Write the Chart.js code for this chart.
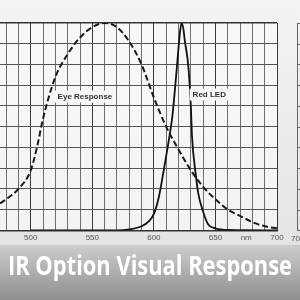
<!DOCTYPE html>
<html>
<head>
<meta charset="utf-8">
<script src="https://cdn.jsdelivr.net/npm/chart.js@4"></script>
<style>
  html, body { margin: 0; padding: 0; background: #eee; }
  canvas { display: block; }
</style>
</head>
<body>
<canvas id="chart" width="300" height="300"></canvas>
<script>
// wavelength (nm) and relative response
const eyeNm = [475, 480, 490, 500, 505, 510, 520, 530, 540, 550, 560, 570, 580, 590, 600, 610, 620, 630, 640, 650, 660, 670, 680, 690, 700];
const eyeVal = [0.13, 0.15, 0.20, 0.29, 0.40, 0.54, 0.74, 0.85, 0.93, 0.98, 1.0, 0.98, 0.91, 0.80, 0.64, 0.50, 0.39, 0.29, 0.21, 0.15, 0.10, 0.07, 0.04, 0.02, 0.01];

const ledNm = [500, 570, 580, 590, 596, 600, 604, 608, 612, 615, 618, 620, 621.5, 622.5, 624, 625, 628, 630, 631, 634, 636, 640, 644, 650, 660, 700];
const ledVal = [0, 0, 0.005, 0.02, 0.045, 0.08, 0.16, 0.29, 0.43, 0.55, 0.74, 0.88, 0.97, 1.0, 0.97, 0.92, 0.79, 0.60, 0.45, 0.27, 0.18, 0.09, 0.03, 0.01, 0.002, 0];

// tick labels along the wavelength axis
const tickNm = [480, 490, 500, 510, 520, 530, 540, 550, 560, 570, 580, 590, 600, 610, 620, 630, 640, 650, 660, 670, 675, 680, 690, 700];
const tickText = { 500: '500', 550: '550', 600: '600', 650: '650', 675: 'nm', 700: '700' };

const curveLabels = [
  { text: 'Eye Response', x: 544, y: 0.645 },
  { text: 'Red LED', x: 645, y: 0.655 }
];
const bannerTitle = 'IR Option Visual Response';

const backdrop = {
  id: 'backdrop',
  beforeDraw(chart) {
    const ctx = chart.ctx;
    const a = chart.chartArea;
    ctx.save();
    let g = ctx.createLinearGradient(0, 0, 0, 245);
    g.addColorStop(0, '#f3f3f3');
    g.addColorStop(1, '#e4e4e4');
    ctx.fillStyle = g;
    ctx.fillRect(0, 0, 300, 300);
    g = ctx.createLinearGradient(0, a.top, 0, a.bottom);
    g.addColorStop(0, '#f8f8f8');
    g.addColorStop(1, '#f3f3f3');
    ctx.fillStyle = g;
    ctx.fillRect(a.left, a.top, a.right - a.left, a.bottom - a.top);
    ctx.restore();
  },
  afterDatasetsDraw(chart) {
    const ctx = chart.ctx;
    const xs = chart.scales.x, ys = chart.scales.y;
    ctx.save();
    ctx.font = 'bold 8px "Liberation Sans", Arial, sans-serif';
    ctx.textAlign = 'center';
    ctx.textBaseline = 'middle';
    curveLabels.forEach(l => {
      const px = xs.getPixelForValue(l.x), py = ys.getPixelForValue(l.y);
      const w = ctx.measureText(l.text).width;
      ctx.fillStyle = '#f7f7f7';
      ctx.fillRect(px - w / 2 - 3, py - 6, w + 6, 12);
      ctx.fillStyle = '#333';
      ctx.fillText(l.text, px, py);
    });
    ctx.restore();
  },
  afterDraw(chart) {
    const ctx = chart.ctx;
    const ys = chart.scales.y;
    ctx.save();
    // edge of the neighbouring chart
    ctx.strokeStyle = '#666';
    ctx.lineWidth = 1;
    ctx.beginPath();
    ctx.moveTo(297.5, ys.getPixelForValue(1));
    ctx.lineTo(297.5, ys.getPixelForValue(0));
    ys.ticks.forEach(t => {
      const y = Math.round(ys.getPixelForValue(t.value)) + 0.5;
      ctx.moveTo(297, y);
      ctx.lineTo(300, y);
    });
    ctx.stroke();
    ctx.fillStyle = '#555';
    ctx.font = '8px "Liberation Sans", Arial, sans-serif';
    ctx.textBaseline = 'middle';
    ctx.fillText('700', 291, ys.getPixelForValue(0) + 8);

    // title banner
    const g = ctx.createLinearGradient(0, 245, 0, 300);
    g.addColorStop(0, '#cdcdcd');
    g.addColorStop(1, '#8f8f8f');
    ctx.fillStyle = g;
    ctx.fillRect(0, 245, 300, 55);
    ctx.font = 'bold 26px "Open Sans", sans-serif';
    const w = ctx.measureText(bannerTitle).width;
    ctx.translate(8, 268);
    ctx.scale(284 / w, 1);
    ctx.fillStyle = '#fff';
    ctx.textBaseline = 'middle';
    ctx.textAlign = 'left';
    ctx.fillText(bannerTitle, 0, 0);
    ctx.restore();
  }
};

new Chart(document.getElementById('chart').getContext('2d'), {
  type: 'scatter',
  data: {
    datasets: [
      {
        label: 'Eye Response',
        data: eyeNm.map((x, i) => ({ x, y: eyeVal[i] })),
        showLine: true,
        borderColor: '#1a1a1a',
        borderWidth: 2,
        borderDash: [6, 3],
        pointRadius: 0,
        cubicInterpolationMode: 'monotone'
      },
      {
        label: 'Red LED',
        data: ledNm.map((x, i) => ({ x, y: ledVal[i] })),
        showLine: true,
        borderColor: '#111',
        borderWidth: 1.8,
        pointRadius: 0,
        cubicInterpolationMode: 'monotone'
      }
    ]
  },
  options: {
    responsive: false,
    animation: false,
    layout: { padding: { left: 0, top: 23, right: 23, bottom: 54 } },
    plugins: { legend: { display: false }, tooltip: { enabled: false } },
    scales: {
      x: {
        type: 'linear',
        min: 475,
        max: 700,
        afterBuildTicks: scale => { scale.ticks = tickNm.map(v => ({ value: v })); },
        grid: {
          drawTicks: false,
          lineWidth: 1,
          color: c => c.tick && c.tick.value === 675 ? 'rgba(0,0,0,0)' : (c.tick && c.tick.value % 50 === 0 ? '#3a3a3a' : '#707070')
        },
        border: { color: '#333', width: 1.5 },
        ticks: {
          autoSkip: false,
          maxRotation: 0,
          padding: 3,
          color: '#555',
          font: { size: 8, family: '"Liberation Sans", Arial, sans-serif' },
          callback: v => tickText[v] || ''
        }
      },
      y: {
        min: 0,
        max: 1,
        ticks: { display: false, stepSize: 0.1 },
        grid: { drawTicks: false, color: c => c.tick && c.tick.value === 1 ? '#333' : '#555', lineWidth: c => c.tick && c.tick.value === 1 ? 1.5 : 1 },
        border: { display: false }
      }
    }
  },
  plugins: [backdrop]
});
</script>
</body>
</html>
